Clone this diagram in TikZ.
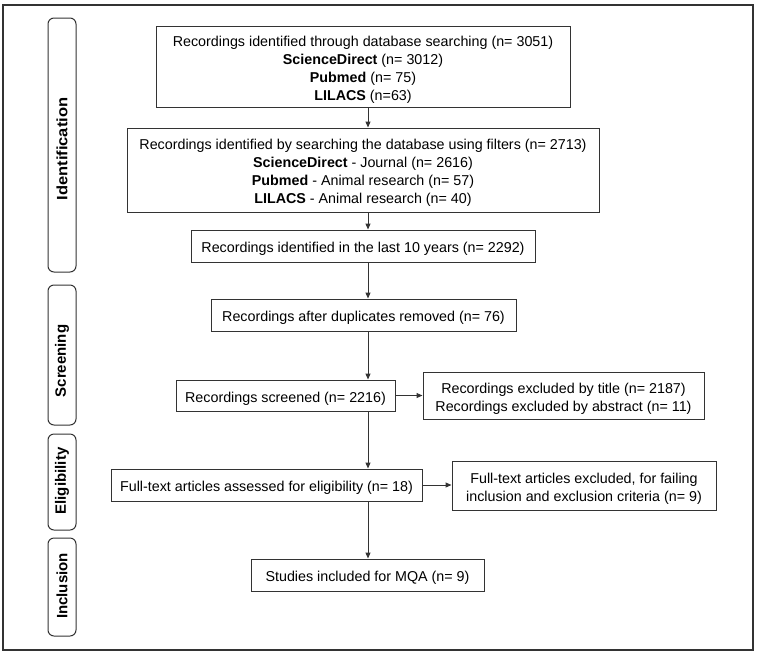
\documentclass[tikz,border=0pt]{standalone}
\usepackage{fontspec}
\setmainfont{Liberation Sans}
\usetikzlibrary{arrows.meta}
\definecolor{ln}{HTML}{333333}
\tikzset{
  box/.style={draw=ln, line width=1pt, inner sep=0pt},
  txt/.style={inner sep=0pt, align=center, yshift=-3pt, font=\fontsize{14.3}{18}\selectfont},
  side/.style={draw=ln, line width=1pt, rounded corners=6pt, minimum width=28pt, inner sep=0pt},
  sidetext/.style={rotate=90, font=\bfseries\fontsize{15}{17}\selectfont},
  arr/.style={draw=ln, line width=1pt, -{Triangle[length=6pt,width=5pt]}}
}
\begin{document}
\begin{tikzpicture}[x=1pt,y=-1pt]
\useasboundingbox (0,0) rectangle (760,654);
\draw[ln, line width=1.3pt] (3,5) rectangle (753,650);
% side labels
\node[side, minimum height=254pt] (sid) at (62,145) {};
\node[sidetext] (tid) at (62,149) {\scalebox{1.1}[1]{Identification}};
\node[side, minimum height=140pt] (ssc) at (62,355) {};
\node[sidetext] (tsc) at (62,361) {Screening};
\node[side, minimum height=96pt] (sel) at (62,482) {};
\node[sidetext] (tel) at (62,481) {Eligibility};
\node[side, minimum height=98pt] (sin) at (62,587) {};
\node[sidetext] (tin) at (62,586) {Inclusion};
% boxes
\node[box, minimum width=414pt, minimum height=81pt] (b1) at (363,66.5) {};
\node[txt] (t1) at (b1.center)
  {Recordings identified through database searching (n= 3051)\\
   \textbf{ScienceDirect} (n= 3012)\\ \textbf{Pubmed} (n= 75)\\ \textbf{LILACS} (n=63)};
\node[box, minimum width=472pt, minimum height=84pt] (b2) at (363,170) {};
\node[txt] (t2) at (b2.center)
  {Recordings identified by searching the database using filters (n= 2713)\\
   \textbf{ScienceDirect} - Journal (n= 2616)\\ \textbf{Pubmed} - Animal research (n= 57)\\
   \textbf{LILACS} - Animal research (n= 40)};
\node[box, minimum width=344pt, minimum height=32pt] (b3) at (363,246) {};
\node[txt] (t3) at (b3.center) {Recordings identified in the last 10 years (n= 2292)};
\node[box, minimum width=305pt, minimum height=32pt] (b4) at (363.5,315) {};
\node[txt] (t4) at (b4.center) {Recordings after duplicates removed (n= 76)};
\node[box, minimum width=219pt, minimum height=31pt] (b5) at (285.5,395.5) {};
\node[txt] (t5) at (b5.center) {Recordings screened (n= 2216)};
\node[box, minimum width=281pt, minimum height=47pt] (e1) at (563.5,395.5) {};
\node[txt] (te1) at (e1.center)
  {Recordings excluded by title (n= 2187)\\ Recordings excluded by abstract (n= 11)};
\node[box, minimum width=311pt, minimum height=32pt] (b6) at (266.5,485) {};
\node[txt] (t6) at (b6.center) {Full-text articles assessed for eligibility (n= 18)};
\node[box, minimum width=264pt, minimum height=49pt] (e2) at (584,485.5) {};
\node[txt] (te2) at (e2.center)
  {Full-text articles excluded, for failing\\ inclusion and exclusion criteria (n= 9)};
\node[box, minimum width=233pt, minimum height=32pt] (b7) at (367.5,575) {};
\node[txt] (t7) at (b7.center) {Studies included for MQA (n= 9)};
% arrows
\coordinate (ax) at (368,0);
\draw[arr] (b1.south -| ax) -- (b2.north -| ax);
\draw[arr] (b2.south -| ax) -- (b3.north -| ax);
\draw[arr] (b3.south -| ax) -- (b4.north -| ax);
\draw[arr] (b4.south -| ax) -- (b5.north -| ax);
\draw[arr] (b5.south -| ax) -- (b6.north -| ax);
\draw[arr] (b6.south -| ax) -- (b7.north -| ax);
\draw[arr] (b5.east) -- (e1.west |- b5.east);
\draw[arr] (b6.east) -- (e2.west |- b6.east);
\end{tikzpicture}
\end{document}
